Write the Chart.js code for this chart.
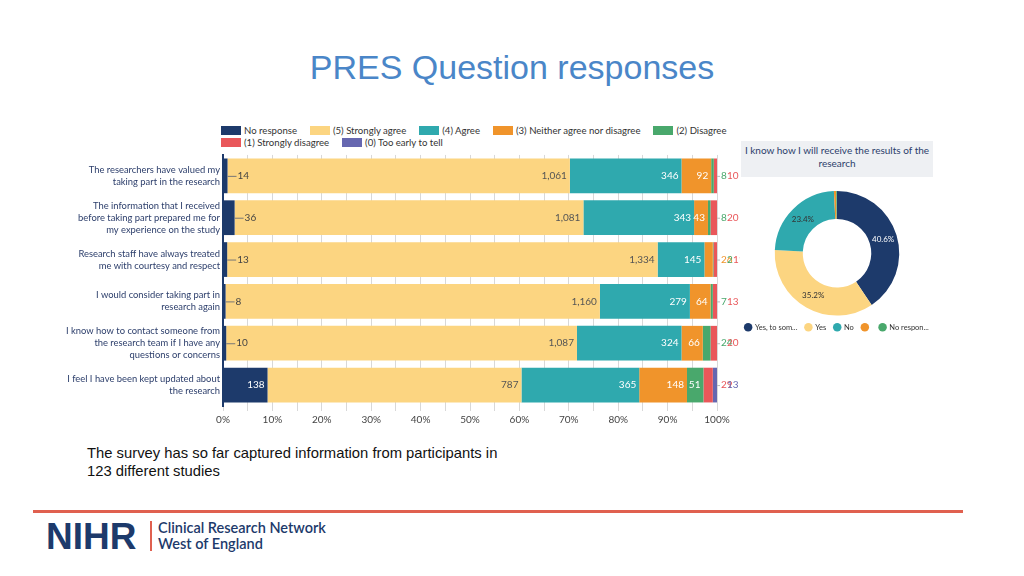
<!DOCTYPE html>
<html>
<head>
<meta charset="utf-8">
<title>PRES Question responses</title>
<script src="https://cdn.jsdelivr.net/npm/chart.js@4.4.1/dist/chart.umd.min.js"></script>
<style>
  body { margin: 0; width: 1024px; height: 576px; background: #fff; position: relative; overflow: hidden; font-family: 'Liberation Sans', Arial, sans-serif; }
  .abs { position: absolute; }
  #title { left: 0; width: 1024px; top: 49px; line-height: 36px; text-align: center; font-size: 34px; color: #4a86c8; }
  #legend { left: 221px; top: 124px; width: 560px; display: flex; flex-wrap: wrap; font: 9.6px Lato; color: #333; }
  #legend .item { display: flex; align-items: center; margin-right: 13px; height: 12.5px; white-space: nowrap; }
  #legend .item:nth-child(5) { margin-right: 40px; }
  #legend i { display: inline-block; width: 20px; height: 9px; margin-right: 3px; }
  #bar { left: 0; top: 140px; }
  #donutTitle { left: 741px; top: 141px; width: 192px; height: 36px; background: #eef0f3; box-sizing: border-box; padding-top: 3px; text-align: center; font: 10px/13px Lato; color: #2c3e6b; white-space: nowrap; }
  #donut { left: 732px; top: 189px; }
  #note { left: 87px; top: 444px; font-size: 14.8px; line-height: 18px; color: #111; }
  #rule { left: 33px; top: 510px; width: 930px; height: 3px; background: #e0604f; }
  #nihr { left: 46px; top: 518px; font-size: 37px; line-height: 37px; font-weight: bold; color: #1d3a6b; }
  #bar2 { left: 150px; top: 521px; width: 2px; height: 30px; background: #e0604f; }
  #crn { left: 158px; top: 520px; font: 600 14.5px/16px Lato; color: #1d3a6b; }
</style>
</head>
<body>
<div id="title" class="abs">PRES Question responses</div>
<div id="legend" class="abs"></div>
<canvas id="bar" class="abs" width="740" height="292"></canvas>
<div id="donutTitle" class="abs">I know how I will receive the results of the<br>research</div>
<canvas id="donut" class="abs" width="210" height="152"></canvas>
<div id="note" class="abs">The survey has so far captured information from participants in<br>123 different studies</div>
<div id="rule" class="abs"></div>
<div id="nihr" class="abs">NIHR</div>
<div id="bar2" class="abs"></div>
<div id="crn" class="abs">Clinical Research Network<br>West of England</div>

<script>
// Data

var questions = [
    ['The researchers have valued my', 'taking part in the research'],
    ['The information that I received', 'before taking part prepared me for', 'my experience on the study'],
    ['Research staff have always treated', 'me with courtesy and respect'],
    ['I would consider taking part in', 'research again'],
    ['I know how to contact someone from', 'the research team if I have any', 'questions or concerns'],
    ['I feel I have been kept updated about', 'the research'],
]

var seriesNames = ['No response', '(5) Strongly agree', '(4) Agree', '(3) Neither agree nor disagree',
    '(2) Disagree', '(1) Strongly disagree', '(0) Too early to tell']

var noResponse = [14, 36, 13, 8, 10, 138]
var stronglyAgree = [1061, 1081, 1334, 1160, 1087, 787]
var agree = [346, 343, 145, 279, 324, 365]
var neither = [92, 43, 26, 64, 66, 148]
var disagree = [8, 8, 2, 7, 24, 51]
var stronglyDisagree = [10, 20, 11, 13, 20, 29]
var tooEarly = [0, 0, 0, 0, 0, 13]

var xTicks = [0, 10, 20, 30, 40, 50, 60, 70, 80, 90, 100]

var donutLabels = ['Yes, to som...', 'Yes', 'No', '', 'No respon...']
var donutValues = [40.6, 35.2, 23.4, 0.6, 0.2]

// Styles

var colors = ['#1d3a6b', '#fcd581', '#2fa9ae', '#f0942b', '#49a86c', '#e9575a', '#6667b0']
var donutColors = ['#1d3a6b', '#fcd581', '#2fa9ae', '#f0942b', '#49a86c']

Chart.defaults.font.family = 'Lato'
Chart.defaults.color = '#444'

// Legend (html, so it lines up with the plot area)

var legend = document.getElementById('legend')
seriesNames.forEach((name, k) => {
    var item = document.createElement('span')
    item.className = 'item'
    item.innerHTML = '<i style="background:' + colors[k] + '"></i>' + name
    legend.appendChild(item)
})

// Bar chart

var counts = [noResponse, stronglyAgree, agree, neither, disagree, stronglyDisagree, tooEarly]
var rowTotals = questions.map((q, i) => counts.reduce((s, c) => s + c[i], 0))

var barLabels = {
    id: 'barLabels',
    afterDatasetsDraw(chart) {
        var ctx = chart.ctx
        var right = chart.chartArea.right
        var outside = questions.map(() => 0)
        ctx.save()
        ctx.font = '10px Lato'
        ctx.textBaseline = 'middle'
        counts.forEach((c, k) => {
            chart.getDatasetMeta(k).data.forEach((bar, i) => {
                var value = c[i]
                if (!value) return
                var p = bar.getProps(['x', 'base', 'y'], true)
                var text = value.toLocaleString('en-US')
                if (p.x - p.base >= 12) {
                    ctx.textAlign = 'right'
                    ctx.fillStyle = k == 1 ? '#555' : '#fff'
                    ctx.fillText(text, p.x - 3, p.y)
                } else if (k == 0) {
                    ctx.strokeStyle = '#777'
                    ctx.lineWidth = 1
                    ctx.beginPath()
                    ctx.moveTo(p.x, p.y + 0.5)
                    ctx.lineTo(p.x + 9, p.y + 0.5)
                    ctx.stroke()
                    ctx.textAlign = 'left'
                    ctx.fillStyle = '#444'
                    ctx.fillText(text, p.x + 10, p.y)
                } else {
                    var j = outside[i]++
                    if (j == 0) {
                        ctx.strokeStyle = '#bbb'
                        ctx.lineWidth = 1
                        ctx.beginPath()
                        ctx.moveTo(right, p.y + 0.5)
                        ctx.lineTo(right + 3, p.y + 0.5)
                        ctx.stroke()
                    }
                    ctx.textAlign = 'left'
                    ctx.fillStyle = colors[k]
                    ctx.fillText(text, right + 4 + j * 6, p.y)
                }
            })
        })
        ctx.restore()
    }
}

var barChart = new Chart(document.getElementById('bar'), {
    type: 'bar',
    data: {
        labels: questions,
        datasets: counts.map((c, k) => ({
            label: seriesNames[k],
            data: c.map((v, i) => v / rowTotals[i] * 100),
            backgroundColor: colors[k],
            borderWidth: 0,
            barPercentage: 0.83,
            categoryPercentage: 1,
        }))
    },
    options: {
        indexAxis: 'y',
        responsive: false,
        animation: false,
        layout: { padding: { top: 0, right: 23, left: 0, bottom: 0 } },
        plugins: { legend: { display: false }, tooltip: { enabled: false } },
        scales: {
            x: {
                stacked: true,
                min: 0,
                max: 100,
                afterFit: s => { s.height = 26 },
                afterBuildTicks: s => {
                    s.ticks = []
                    for (var v = 0; v <= 100; v += 5) s.ticks.push({ value: v })
                },
                grid: { color: '#d8d8d8', tickLength: 5 },
                border: { display: false },
                ticks: {
                    autoSkip: false,
                    maxRotation: 0,
                    padding: 3,
                    font: { size: 10 },
                    color: '#444',
                    callback: v => xTicks.includes(v) ? v + '%' : '',
                },
            },
            y: {
                stacked: true,
                afterFit: s => { s.width = 223 },
                grid: { display: false, drawTicks: false },
                border: { display: true, color: '#1d3a6b', width: 2 },
                ticks: { padding: 3, font: { size: 9.4, lineHeight: 1.27 }, color: '#2c3e6b' },
            }
        }
    },
    plugins: [barLabels]
})

// Donut

var donutText = {
    id: 'donutText',
    afterDatasetsDraw(chart) {
        var ctx = chart.ctx
        ctx.save()
        ctx.font = '8px Lato'
        ctx.textAlign = 'center'
        ctx.textBaseline = 'middle'
        chart.getDatasetMeta(0).data.forEach((arc, i) => {
            if (donutValues[i] < 5) return
            var pos = arc.tooltipPosition()
            ctx.fillStyle = i == 0 ? '#fff' : '#333'
            ctx.fillText(donutValues[i].toFixed(1) + '%', pos.x, pos.y)
        })
        ctx.restore()
    }
}

var donutChart = new Chart(document.getElementById('donut'), {
    type: 'doughnut',
    data: {
        labels: donutLabels,
        datasets: [{
            data: donutValues,
            backgroundColor: donutColors,
            borderWidth: 0,
        }]
    },
    options: {
        responsive: false,
        animation: false,
        cutout: '55%',
        layout: { padding: { top: 2 } },
        plugins: {
            tooltip: { enabled: false },
            legend: {
                position: 'bottom',
                labels: {
                    usePointStyle: true,
                    pointStyle: 'circle',
                    boxWidth: 6,
                    boxHeight: 6,
                    padding: 8,
                    color: '#333',
                    font: { size: 7.5 },
                }
            }
        }
    },
    plugins: [donutText]
})
</script>
</body>
</html>
